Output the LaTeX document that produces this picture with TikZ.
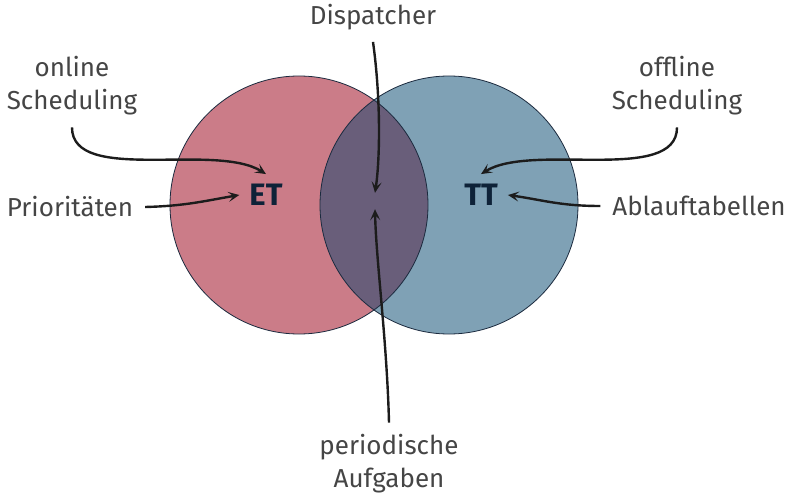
\documentclass[tikz,border=0pt]{standalone}
\usepackage{fontspec}
\setmainfont{Fira Sans}
\usetikzlibrary{arrows.meta}
\definecolor{etfill}{HTML}{CB7C88}
\definecolor{ttfill}{HTML}{7FA1B5}
\definecolor{bothfill}{HTML}{695E7A}
\definecolor{rim}{HTML}{1B2A3E}
\definecolor{labeltext}{HTML}{454545}
\definecolor{setink}{HTML}{0E2238}
\definecolor{pointerink}{HTML}{1C1C1C}
\begin{document}
\begin{tikzpicture}[x=1pt,y=-1pt,
  label/.style={text=labeltext, font=\fontsize{26}{33}\selectfont, align=center,
    inner sep=0pt, outer sep=12pt},
  setname/.style={text=setink, font=\fontsize{31}{36}\selectfont\bfseries, inner sep=10pt},
  pointer/.style={draw=pointerink, line width=2.4pt,
    -{Stealth[length=11pt,width=10pt,inset=5pt]}},
  rimline/.style={draw=rim, line width=0.8pt}
  ]
\useasboundingbox (0,0) rectangle (788,495);

% the two sets and their overlap
\fill[etfill] (299,205) circle[radius=129pt];
\fill[ttfill] (449,205) circle[radius=129pt];
\begin{scope}
  \clip (299,205) circle[radius=129pt];
  \fill[bothfill] (449,205) circle[radius=129pt];
\end{scope}
\draw[rimline] (299,205) circle[radius=129pt];
\draw[rimline] (449,205) circle[radius=129pt];

% set names
\node[setname] (et) at (266,195) {ET};
\node[setname] (tt) at (481,195) {TT};
\node[inner sep=8pt] (core) at (375,201) {};

% labels
\node[label] (online) at (72,86) {online\\Scheduling};
\node[label] (prio) at (70,207) {Prioritäten};
\node[label] (disp) at (373,17) {Dispatcher};
\node[label] (offline) at (677,86) {offline\\Scheduling};
\node[label] (ablauf) at (699,206) {Ablauftabellen};
\node[label] (period) at (389,464) {periodische\\Aufgaben};

% pointers
\draw[pointer] (online.south) .. controls +(0,57) and +(-51,-32) .. (et.north);
\draw[pointer] (prio.east) .. controls +(40,-1) and +(-35,6) .. (et.west);
\draw[pointer] (offline.south) .. controls +(0,57) and +(51,-32) .. (tt.north);
\draw[pointer] (ablauf.west) .. controls +(-40,0) and +(35,5) .. (tt.east);
\draw[pointer] (disp.south) .. controls +(8,57) and +(5,-33) .. (core.north);
\draw[pointer] (period.north) .. controls +(-2,-81) and +(1,50) .. (core.south);
\end{tikzpicture}
\end{document}
